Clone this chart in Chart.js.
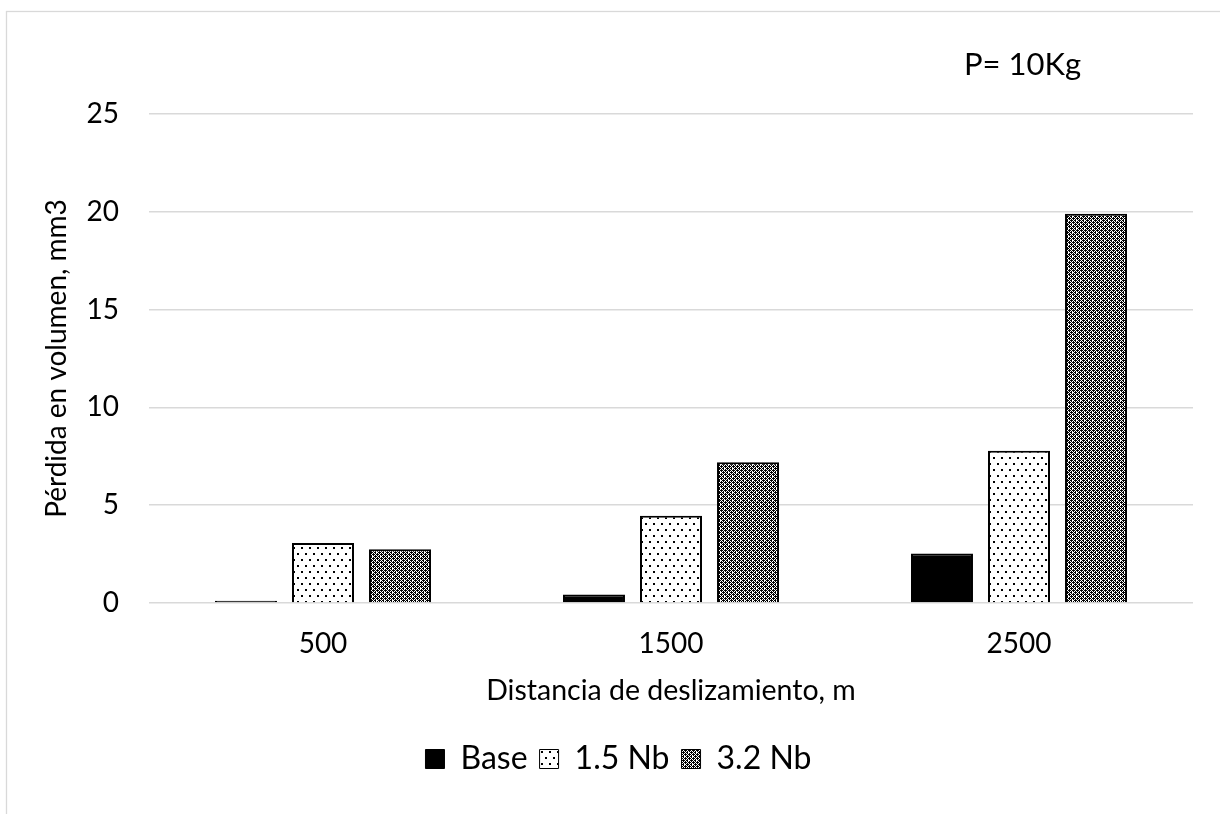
<!DOCTYPE html>
<html>
<head>
<meta charset="utf-8">
<script src="https://cdn.jsdelivr.net/npm/chart.js@4.4.1/dist/chart.umd.min.js"></script>
<style>
  html, body { margin: 0; padding: 0; background: #fff; }
  #wrap { width: 1220px; height: 814px; }
</style>
</head>
<body>
<div id="wrap"><canvas id="c" width="1220" height="814"></canvas></div>
<script>
const categories = ['500', '1500', '2500'];
const seriesNames = ['Base', '1.5 Nb', '3.2 Nb'];
const baseValues = [0.12, 0.43, 2.53];
const nb15Values = [3.07, 4.46, 7.78];
const nb32Values = [2.75, 7.19, 19.9];
const yTicks = [0, 5, 10, 15, 20, 25];
const xTitle = 'Distancia de deslizamiento, m';
const yTitle = 'Pérdida en volumen, mm3';
const noteText = 'P= 10Kg';

const FONT = 'Lato';

function makeDots() {
  const c = document.createElement('canvas');
  c.width = 8; c.height = 12;
  const g = c.getContext('2d');
  g.fillStyle = '#fff'; g.fillRect(0, 0, 8, 12);
  g.fillStyle = '#000';
  g.fillRect(1, 1, 2, 2);
  g.fillRect(5, 7, 2, 2);
  return g.createPattern(c, 'repeat');
}
function makeChecker() {
  const c = document.createElement('canvas');
  c.width = 8; c.height = 8;
  const g = c.getContext('2d');
  g.fillStyle = '#fff'; g.fillRect(0, 0, 8, 8);
  g.fillStyle = '#000';
  for (let y = 0; y < 8; y++) for (let x = 0; x < 8; x++) {
    const on = ((x + y) % 2 === 0) || (x % 4 === 1 && y % 4 === 2) || (x % 4 === 3 && y % 4 === 0);
    if (on) g.fillRect(x, y, 1, 1);
  }
  g.fillStyle = '#fff';
  g.fillRect(0, 0, 1, 1);
  g.fillRect(4, 4, 1, 1);
  return g.createPattern(c, 'repeat');
}

const framePlugin = {
  id: 'frame',
  beforeDraw(chart) {
    const ctx = chart.ctx;
    ctx.save();
    ctx.fillStyle = '#fff';
    ctx.fillRect(0, 0, chart.width, chart.height);
    ctx.strokeStyle = '#d9d9d9';
    ctx.lineWidth = 1.3;
    ctx.strokeRect(6.5, 11.5, 1400, 1000);
    ctx.restore();
  },
  afterDraw(chart) {
    const ctx = chart.ctx;
    ctx.save();
    ctx.fillStyle = '#000';
    ctx.font = '31px ' + FONT;
    ctx.textBaseline = 'alphabetic';
    ctx.textAlign = 'left';
    ctx.fillText(noteText, 964, 75);
    ctx.restore();
  }
};

const dots = makeDots();
const checker = makeChecker();

new Chart(document.getElementById('c'), {
  type: 'bar',
  data: {
    labels: categories,
    datasets: [
      { label: seriesNames[0], data: baseValues, backgroundColor: '#000', borderColor: '#000', borderWidth: 2 },
      { label: seriesNames[1], data: nb15Values, backgroundColor: dots, borderColor: '#000', borderWidth: 2 },
      { label: seriesNames[2], data: nb32Values, backgroundColor: checker, borderColor: '#000', borderWidth: 2 }
    ]
  },
  options: {
    responsive: false,
    animation: false,
    devicePixelRatio: 1,
    layout: { padding: { left: 44, right: 27, top: 114, bottom: 29 } },
    datasets: { bar: { categoryPercentage: 0.664, barPercentage: 0.805 } },
    scales: {
      x: {
        grid: { display: false, drawTicks: false },
        border: { display: false },
        ticks: { color: '#000', font: { family: FONT, size: 28 }, padding: 24 },
        title: { display: true, text: xTitle, color: '#000', font: { family: FONT, size: 28.5 }, padding: { top: 0, bottom: 23 } },
        afterFit(scale) { scale.height = 128; }
      },
      y: {
        min: 0, max: 25,
        afterBuildTicks(scale) { scale.ticks = yTicks.map(v => ({ value: v })); },
        grid: { color: '#d9d9d9', lineWidth: 1.5, drawTicks: false },
        border: { display: false },
        ticks: { color: '#000', font: { family: FONT, size: 28 }, padding: 30 },
        title: { display: true, text: yTitle, color: '#000', font: { family: FONT, size: 28 }, padding: { top: -4, bottom: 0 } },
        afterFit(scale) { scale.width = 105; }
      }
    },
    plugins: {
      legend: {
        position: 'bottom',
        labels: {
          color: '#000',
          font: { family: FONT, size: 32 },
          boxWidth: 19, boxHeight: 19, padding: 12,
          generateLabels(chart) {
            const items = Chart.defaults.plugins.legend.labels.generateLabels(chart);
            items.forEach(it => { it.lineWidth = 1; });
            return items;
          }
        }
      },
      tooltip: { enabled: false }
    }
  },
  plugins: [framePlugin]
});
</script>
</body>
</html>
